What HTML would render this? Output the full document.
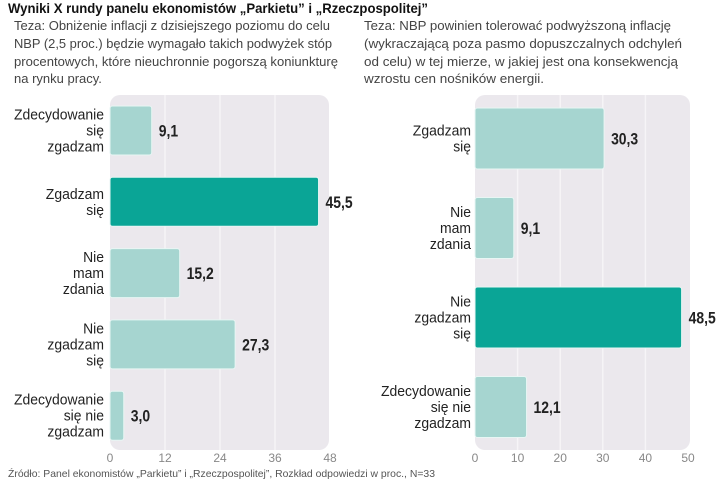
<!DOCTYPE html>
<html><head><meta charset="utf-8"><style>
body{margin:0;background:#fff;width:720px;height:481px;overflow:hidden}
svg{display:block}
.t{font-family:"Liberation Sans",sans-serif}
</style></head><body>
<svg id="c" width="720" height="481" class="t">
<text x="8" y="13" font-size="14" font-weight="bold" fill="#111" textLength="420" lengthAdjust="spacingAndGlyphs">Wyniki X rundy panelu ekonomistów „Parkietu” i „Rzeczpospolitej”</text>
<g font-size="13" fill="#444">
<text x="14" y="30" textLength="316" lengthAdjust="spacingAndGlyphs">Teza: Obniżenie inflacji z dzisiejszego poziomu do celu</text>
<text x="14" y="48" textLength="318" lengthAdjust="spacingAndGlyphs">NBP (2,5 proc.) będzie wymagało takich podwyżek stóp</text>
<text x="14" y="66" textLength="324" lengthAdjust="spacingAndGlyphs">procentowych, które nieuchronnie pogorszą koniunkturę</text>
<text x="14" y="83">na rynku pracy.</text></g>
<g font-size="13" fill="#444">
<text x="364" y="30" textLength="307" lengthAdjust="spacingAndGlyphs">Teza: NBP powinien tolerować podwyższoną inflację</text>
<text x="364" y="48" textLength="318" lengthAdjust="spacingAndGlyphs">(wykraczającą poza pasmo dopuszczalnych odchyleń</text>
<text x="364" y="66" textLength="314" lengthAdjust="spacingAndGlyphs">od celu) w tej mierze, w jakiej jest ona konsekwencją</text>
<text x="364" y="83" textLength="180" lengthAdjust="spacingAndGlyphs">wzrostu cen nośników energii.</text></g>
<text x="8" y="477" font-size="10.5" fill="#555" textLength="427" lengthAdjust="spacingAndGlyphs">Źródło: Panel ekonomistów „Parkietu” i „Rzeczpospolitej”, Rozkład odpowiedzi w proc., N=33</text>
</svg>
<script>
const leftCats=[["Zdecydowanie","się","zgadzam"],["Zgadzam","się"],["Nie","mam","zdania"],["Nie","zgadzam","się"],["Zdecydowanie","się nie","zgadzam"]];
const leftVals=[9.1,45.5,15.2,27.3,3.0];
const leftLabels=["9,1","45,5","15,2","27,3","3,0"];
const leftTicks=[0,12,24,36,48];
const rightCats=[["Zgadzam","się"],["Nie","mam","zdania"],["Nie","zgadzam","się"],["Zdecydowanie","się nie","zgadzam"]];
const rightVals=[30.3,9.1,48.5,12.1];
const rightLabels=["30,3","9,1","48,5","12,1"];
const rightTicks=[0,10,20,30,40,50];

const NS="http://www.w3.org/2000/svg";
const svg=document.getElementById('c');
function mk(tag,attrs,parent){const e=document.createElementNS(NS,tag);for(const k in attrs)e.setAttribute(k,attrs[k]);(parent||svg).appendChild(e);return e;}
function squeeze(t,f){const w=t.getComputedTextLength();t.setAttribute('textLength',(w*f).toFixed(1));t.setAttribute('lengthAdjust','spacingAndGlyphs');}
function panel(o,cats,vals,labels,ticks,prefix){
  const max=ticks[ticks.length-1];
  const x=v=>o.x0+v/max*(o.x1-o.x0);
  const g=mk('g',{});
  
  
  const bg=mk('rect',{x:o.x0,y:o.top,width:o.bgR-o.x0,height:o.bot-o.top,rx:10,fill:'#ebe8ed'},g);
  
  
  ticks.forEach((t,i)=>{
    if(i>0&&i<ticks.length-1){const l=mk('line',{x1:x(t),x2:x(t),y1:o.top,y2:o.bot,stroke:'#f6f4f7','stroke-width':1.5},g);
      
      }
    const tx=mk('text',{x:x(t),y:462,'text-anchor':'middle','font-size':12,fill:'#888'},g);
    tx.textContent=t;
    
    
  });
  const maxV=Math.max(...vals);
  vals.forEach((v,i)=>{
    const y=o.first+i*o.step;
    const r=mk('rect',{x:o.x0,y:y,width:x(v)-o.x0,height:o.h,rx:2.5,fill:v===maxV?'#0aa596':'#a6d5d0',stroke:'#e8f6f4','stroke-width':1},g);
    
    
    const vl=mk('text',{x:x(v)+7,y:y+o.h/2+6,'font-size':17,'font-weight':'bold',fill:'#222'},g);
    vl.textContent=labels[i];
    
    
    squeeze(vl,0.82);
    const lines=cats[i];
    const cy=y+o.h/2;
    lines.forEach((ln,j)=>{
      const t=mk('text',{x:o.labR,y:cy+(j-(lines.length-1)/2)*16+5,'text-anchor':'end','font-size':15,fill:'#222'},g);
      t.textContent=ln;
      
      
      squeeze(t,0.93);
    });
  });
}
panel({x0:110,x1:330,bgR:329,top:95,bot:450,first:106,step:71.3,h:49,labR:104},leftCats,leftVals,leftLabels,leftTicks,'left');
panel({x0:475,x1:688,bgR:690,top:95,bot:450,first:108,step:89.5,h:61,labR:471},rightCats,rightVals,rightLabels,rightTicks,'right');
</script>
</body></html>
